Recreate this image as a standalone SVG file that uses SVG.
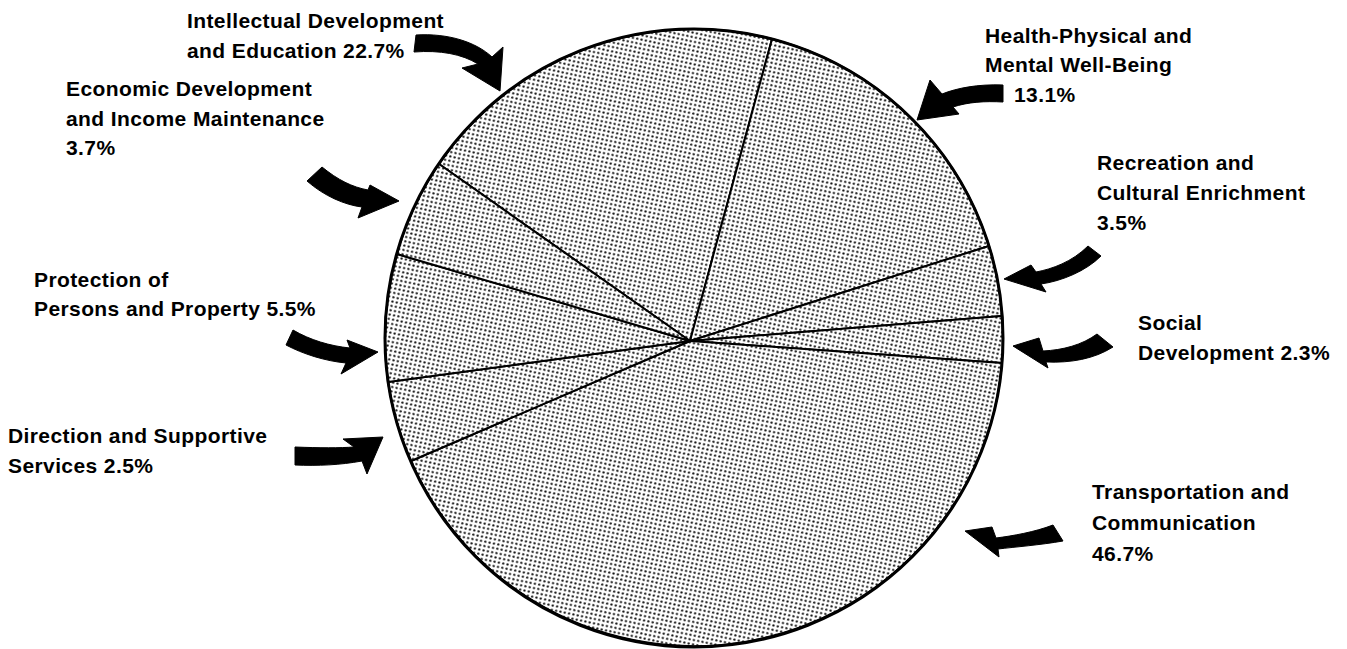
<svg xmlns="http://www.w3.org/2000/svg" width="1347" height="649" viewBox="0 0 1347 649">
  <style>
    .lbl { font-family: "Liberation Sans", Arial, sans-serif; font-weight: bold; font-size: 21px; letter-spacing: 0.4px; fill: #000; }
    .slice { fill: url(#dots); stroke: #000; stroke-width: 2; stroke-linejoin: round; }
    .rim { fill: none; stroke: #000; stroke-width: 3; }
    .arrow { fill: #000; stroke: #000; stroke-width: 1; stroke-linejoin: round; }
  </style>
  <defs>
    <!-- halftone screen used for every slice -->
    <pattern id="dots" width="4.4" height="4.4" patternUnits="userSpaceOnUse" patternTransform="rotate(12)">
      <rect width="4.4" height="4.4" fill="#fff"/>
      <circle cx="2.2" cy="2.2" r="1.15" fill="#111"/>
    </pattern>
  </defs>
  <rect width="1347" height="649" fill="#fff"/>

  <!-- pie: hub (690,341), rim centre (694,338) r 309 -->
  <g id="pie">
    <g id="slice-intellectual"><path class="slice" d="M690,341 L439,164 A309,309 0 0 1 772,39 Z"/></g>
    <g id="slice-health"><path class="slice" d="M690,341 L772,39 A309,309 0 0 1 989,246 Z"/></g>
    <g id="slice-recreation"><path class="slice" d="M690,341 L989,246 A309,309 0 0 1 1002,316 Z"/></g>
    <g id="slice-social"><path class="slice" d="M690,341 L1002,316 A309,309 0 0 1 1002,363 Z"/></g>
    <g id="slice-transportation"><path class="slice" d="M690,341 L1002,363 A309,309 0 0 1 411,461 Z"/></g>
    <g id="slice-direction"><path class="slice" d="M690,341 L411,461 A309,309 0 0 1 388,382 Z"/></g>
    <g id="slice-protection"><path class="slice" d="M690,341 L388,382 A309,309 0 0 1 397,254 Z"/></g>
    <g id="slice-economic"><path class="slice" d="M690,341 L397,254 A309,309 0 0 1 439,164 Z"/></g>
    <circle class="rim" cx="694" cy="338" r="309"/>
  </g>

  <!-- labels -->
  <g id="label-intellectual">
    <text class="lbl" x="187" y="28">Intellectual Development</text>
    <text class="lbl" x="187" y="58">and Education 22.7%</text>
  </g>
  <g id="label-health">
    <text class="lbl" x="985" y="43">Health-Physical and</text>
    <text class="lbl" x="985" y="72">Mental Well-Being</text>
    <text class="lbl" x="1014" y="102">13.1%</text>
  </g>
  <g id="label-economic">
    <text class="lbl" x="66" y="96">Economic Development</text>
    <text class="lbl" x="66" y="126">and Income Maintenance</text>
    <text class="lbl" x="66" y="155">3.7%</text>
  </g>
  <g id="label-recreation">
    <text class="lbl" x="1097" y="170">Recreation and</text>
    <text class="lbl" x="1097" y="200">Cultural Enrichment</text>
    <text class="lbl" x="1097" y="230">3.5%</text>
  </g>
  <g id="label-protection">
    <text class="lbl" x="34" y="287">Protection of</text>
    <text class="lbl" x="34" y="316">Persons and Property 5.5%</text>
  </g>
  <g id="label-social">
    <text class="lbl" x="1138" y="330">Social</text>
    <text class="lbl" x="1138" y="360">Development 2.3%</text>
  </g>
  <g id="label-direction">
    <text class="lbl" x="8" y="443">Direction and Supportive</text>
    <text class="lbl" x="8" y="473">Services 2.5%</text>
  </g>
  <g id="label-transportation">
    <text class="lbl" x="1092" y="499">Transportation and</text>
    <text class="lbl" x="1092" y="530">Communication</text>
    <text class="lbl" x="1092" y="561">46.7%</text>
  </g>

  <!-- curved pointer arrows -->
  <g id="connectors">
    <path class="arrow" d="M416,35 C448,33 476,42 492,57 L503,47 L500,91 L462,68 L478,64 C462,54 440,50 414,52 Z"/>
    <path class="arrow" d="M1003,85 C978,84 957,88 942,94 L930,80 L917,120 L959,114 L953,107 C968,102 985,101 1003,102 Z"/>
    <path class="arrow" d="M322,167 C338,180 352,187 368,190 L370,185 L399,201 L358,218 L362,207 C345,205 324,196 307,181 Z"/>
    <path class="arrow" d="M1088,246 C1072,262 1052,269 1036,272 L1031,265 L1004,279 L1046,292 L1041,284 C1062,281 1086,271 1101,256 Z"/>
    <path class="arrow" d="M1097,334 C1082,345 1063,350 1043,351 L1039,338 L1013,346 L1048,368 L1046,362 C1071,363 1094,359 1113,347 Z"/>
    <path class="arrow" d="M293,330 C310,340 330,346 350,348 L347,340 L378,352 L341,374 L346,363 C325,361 303,354 286,345 Z"/>
    <path class="arrow" d="M295,447 C320,448 340,448 354,447 L343,439 L383,437 L367,474 L362,461 C340,465 318,466 295,465 Z"/>
    <path class="arrow" d="M1053,525 C1035,532 1012,536 996,538 L992,527 L965,531 L999,557 L998,549 C1015,547 1040,545 1063,541 Z"/>
  </g>
</svg>
